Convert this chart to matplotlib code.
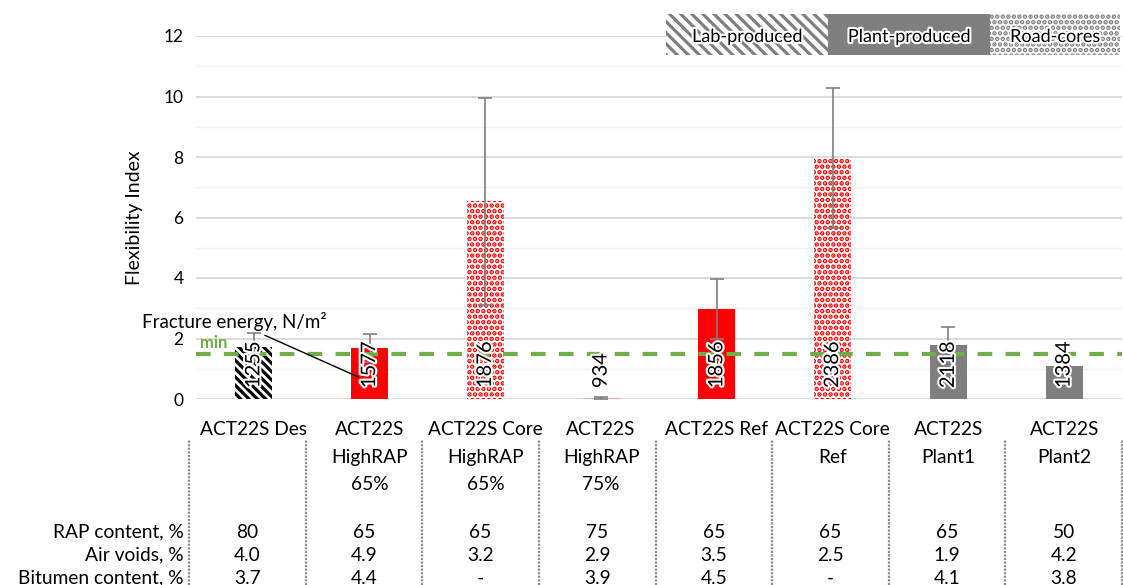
import matplotlib.pyplot as plt
import matplotlib.patheffects as pe
from matplotlib.patches import Rectangle

plt.rcParams["font.family"] = ["Lato", "DejaVu Sans"]
plt.rcParams["hatch.linewidth"] = 2.3

categories = [
    "ACT22S Des",
    "ACT22S\nHighRAP\n65%",
    "ACT22S Core\nHighRAP\n65%",
    "ACT22S\nHighRAP\n75%",
    "ACT22S Ref",
    "ACT22S Core\nRef",
    "ACT22S\nPlant1",
    "ACT22S\nPlant2",
]
flex_index = [1.72, 1.69, 6.53, 0.03, 2.98, 7.97, 1.79, 1.09]
flex_err = [0.46, 0.46, 3.42, 0.03, 0.99, 2.31, 0.59, 0.0]
fracture_energy = ["1255", "1577", "1876", "934", "1856", "2386", "2118", "1384"]
min_flex = 1.5

row_names = ["RAP content, %", "Air voids, %", "Bitumen content, %"]
rap_content = ["80", "65", "65", "75", "65", "65", "65", "50"]
air_voids = ["4.0", "4.9", "3.2", "2.9", "3.5", "2.5", "1.9", "4.2"]
bitumen = ["3.7", "4.4", "-", "3.9", "4.5", "-", "4.1", "3.8"]

legend_names = ["Lab-produced", "Plant-produced", "Road-cores"]

# bar styles
face = ["white", "#FF0000", "white", "#F4A3A3", "#FF0000", "white", "#7F7F7F", "#7F7F7F"]
edge = ["black", "#FF0000", "#FF0000", "#F4A3A3", "#FF0000", "#FF0000", "#7F7F7F", "#7F7F7F"]
hatches = ["\\\\\\\\", None, "...", None, None, "...", None, None]

W, H = 1123, 585
GREEN = "#70AD47"
glow = [pe.withStroke(linewidth=3, foreground="white")]

fig = plt.figure(figsize=(W / 100, H / 100), dpi=100)
ax = fig.add_axes([196 / W, (H - 399) / H, (1122 - 196) / W, (399 - 36) / H])

x = list(range(len(categories)))
bars = ax.bar(x, flex_index, width=0.32, color=face, edgecolor=edge,
              linewidth=0, zorder=2)
for b, h in zip(bars, hatches):
    if h:
        b.set_hatch(h)
ax.errorbar(x, flex_index, yerr=flex_err, fmt="none", ecolor="#7F7F7F",
            elinewidth=1.2, capsize=5, capthick=1.2, zorder=3)

ax.axhline(min_flex, color=GREEN, lw=3, ls=(0, (3.5, 3.2)), zorder=4)
ax.text(-0.465, 1.85, "min", color=GREEN, fontsize=12, fontweight="bold",
        ha="left", va="center", zorder=5)

for xi, lab in zip(x, fracture_energy):
    ax.text(xi, 0.36, lab, rotation=90, ha="center", va="bottom",
            fontsize=14.5, zorder=6, path_effects=glow)

ax.annotate("Fracture energy, N/m²", xy=(0.925, 0.69), xytext=(0.632, 2.55),
            ha="right", va="center", fontsize=13.5, zorder=6,
            arrowprops=dict(arrowstyle="-", color="black", lw=1))

ax.set_xlim(-0.5, len(categories) - 0.5)
ax.set_ylim(0, 12)
ax.set_yticks(range(0, 13, 2))
ax.set_yticks(range(1, 12, 2), minor=True)
ax.grid(axis="y", which="major", color="#D9D9D9", lw=1.3, zorder=0)
ax.grid(axis="y", which="minor", color="#F2F2F2", lw=1.0, zorder=0)
ax.set_axisbelow(True)
ax.tick_params(axis="y", which="both", length=0, labelsize=12.5, pad=9)
ax.set_xticks(x, categories)
ax.tick_params(axis="x", length=0, labelsize=13.8, pad=16)
for t in ax.get_xticklabels():
    t.set_linespacing(1.75)
for s in ax.spines.values():
    s.set_visible(False)
ax.set_ylabel("Flexibility Index", fontsize=14)
ax.yaxis.set_label_coords(-0.057, 0.5)

# table below the chart
tab = fig.add_axes([189 / W, 0, (1122 - 189) / W, (H - 440) / H])
tab.set_xlim(-0.5, len(categories) - 0.5)
tab.set_ylim(-2.30, 4.0)
tab.axis("off")
for k in range(len(categories) + 1):
    tab.axvline(k - 0.5, color="#8C8C8C", lw=1.6, ls=(0, (1, 0.6)), clip_on=False)
for r, (name, vals) in enumerate(zip(row_names, [rap_content, air_voids, bitumen])):
    tab.text(-0.543, -r, name, ha="right", va="center", fontsize=13.8)
    for xi, v in zip(x, vals):
        tab.text(xi, -r, v, ha="center", va="center", fontsize=13.8)

# legend boxes with text inside
boxes = [(666, 828), (828, 990), (990, 1120)]
leg_face = ["white", "#7F7F7F", "white"]
leg_hatch = ["\\\\\\", None, "..."]
for (x0, x1), name, fc, h in zip(boxes, legend_names, leg_face, leg_hatch):
    r = Rectangle((x0 / W, (H - 55) / H), (x1 - x0) / W, 41 / H,
                  transform=fig.transFigure, facecolor=fc, edgecolor="#7F7F7F",
                  linewidth=0, hatch=h)
    fig.add_artist(r)
    fig.text((x0 + x1) / 2 / W, (H - 37) / H, name, ha="center", va="center",
             fontsize=13, path_effects=glow)

fig.savefig("out.png", dpi=100)
